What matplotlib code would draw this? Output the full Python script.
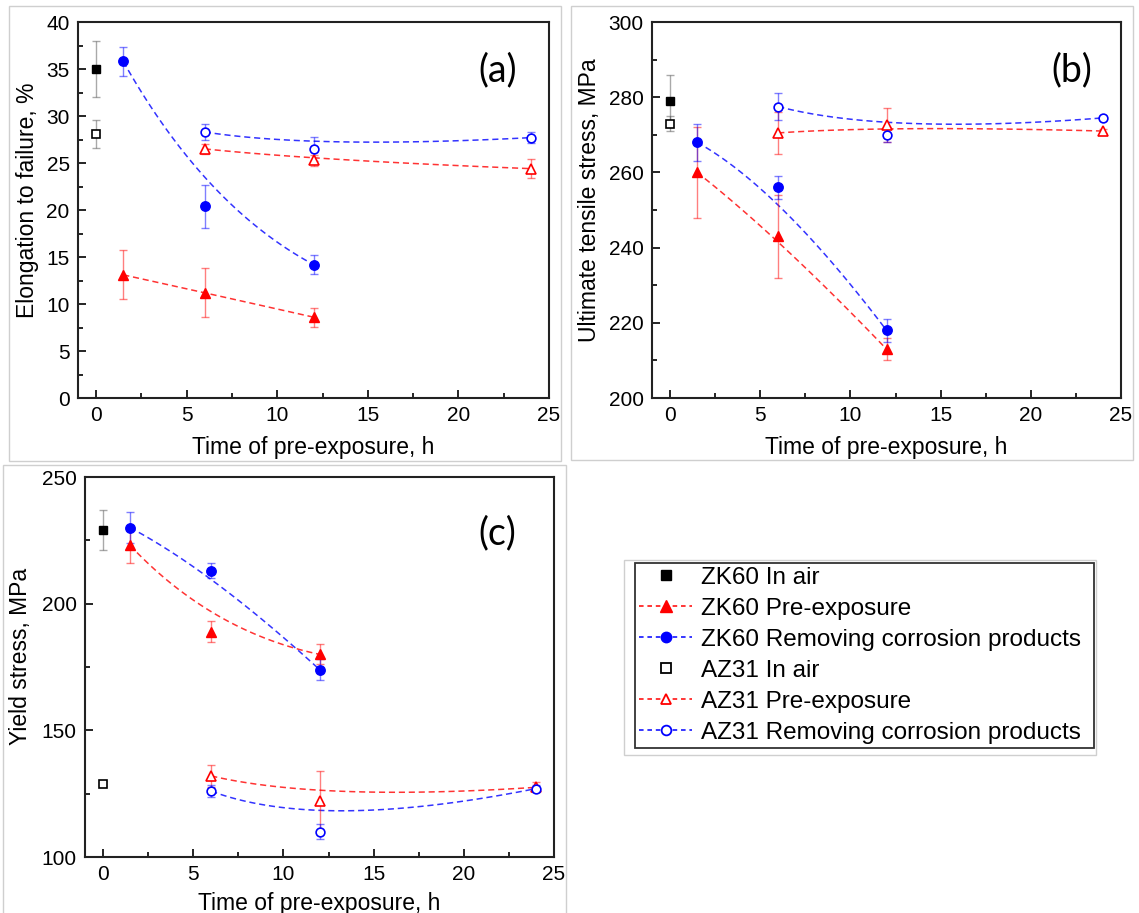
import numpy as np
import matplotlib
matplotlib.use("Agg")
import matplotlib.pyplot as plt
from matplotlib.lines import Line2D
from matplotlib.patches import Rectangle
from math import comb

plt.rcParams['font.family'] = ['Liberation Sans', 'DejaVu Sans']

# ================= data =================
t_air = [0]
t_zk = [1.5, 6, 12]
t_az = [6, 12, 24]

# (a) elongation to failure, %
a_zk_air, a_zk_air_err = [35.0], [3.0]
a_az_air, a_az_air_err = [28.1], [1.5]
a_zk_pre, a_zk_pre_err = [13.1, 11.2, 8.6], [2.6, 2.6, 1.0]
a_zk_rem, a_zk_rem_err = [35.8, 20.4, 14.2], [1.5, 2.3, 1.0]
a_az_pre, a_az_pre_err = [26.5, 25.3, 24.4], [0.5, 0.6, 1.0]
a_az_rem, a_az_rem_err = [28.3, 26.5, 27.7], [0.9, 1.3, 0.6]

# (b) ultimate tensile stress, MPa
b_zk_air, b_zk_air_err = [279], [7]
b_az_air, b_az_air_err = [273], [2]
b_zk_pre, b_zk_pre_err = [260, 243, 213], [12, 11, 3]
b_zk_rem, b_zk_rem_err = [268, 256, 218], [5, 3, 3]
b_az_pre, b_az_pre_err = [270.5, 272.5, 271], [5.5, 4.5, 0.5]
b_az_rem, b_az_rem_err = [277.5, 270, 274.5], [3.5, 2, 0.5]

# (c) yield stress, MPa
c_zk_air, c_zk_air_err = [229], [8]
c_az_air, c_az_air_err = [129], [1]
c_zk_pre, c_zk_pre_err = [223, 189, 180], [7, 4, 4]
c_zk_rem, c_zk_rem_err = [230, 213, 174], [6, 3, 4]
c_az_pre, c_az_pre_err = [132, 122, 127.5], [4.5, 12, 2]
c_az_rem, c_az_rem_err = [126, 110, 127], [2.5, 3, 1.5]

labels = ['ZK60 In air', 'ZK60 Pre-exposure', 'ZK60 Removing corrosion products',
          'AZ31 In air', 'AZ31 Pre-exposure', 'AZ31 Removing corrosion products']

RED = '#ff0000'
BLUE = '#0000ff'
W, H = 1139, 913


def bezier(xs, ys, n=100):
    # B-spline (Bezier) curve using the data points as control points
    xs = np.asarray(xs, float)
    ys = np.asarray(ys, float)
    k = len(xs) - 1
    t = np.linspace(0, 1, n)
    bx = np.zeros(n)
    by = np.zeros(n)
    for i in range(k + 1):
        b = comb(k, i) * t**i * (1 - t)**(k - i)
        bx += b * xs[i]
        by += b * ys[i]
    return bx, by


def series(ax, x, y, err, color, marker, filled, line=True):
    if line:
        cx, cy = bezier(x, y)
        ax.plot(cx, cy, ls=(0, (4, 2.5)), color=color, lw=1.1, alpha=0.8, zorder=2)
    ecol = color if color != 'black' else '#555555'
    ax.errorbar(x, y, yerr=err, fmt='none', ecolor=ecol, elinewidth=1.0,
                capsize=3, capthick=1.0, alpha=0.5, zorder=3)
    ms = 6.8 if marker == 'o' else (7.5 if marker == '^' else 6)
    if filled:
        ax.plot(x, y, ls='none', marker=marker, ms=ms, color=color, mec=color, zorder=4)
    else:
        ax.plot(x, y, ls='none', marker=marker, ms=ms - 0.5, mfc='white', mec=color,
                mew=1.2, zorder=4)


def px_axes(fig, left, top, right, bottom):
    return fig.add_axes([left / W, 1 - bottom / H, (right - left) / W, (bottom - top) / H])


def style(ax, ylim, major, minor, ylabel, tag, lab_xy, tag_xy):
    ax.set_xlim(-1, 25)
    ax.set_ylim(*ylim)
    ax.set_xticks([0, 5, 10, 15, 20, 25])
    ax.set_xticks([2.5, 7.5, 12.5, 17.5, 22.5], minor=True)
    ax.set_yticks(np.arange(ylim[0], ylim[1] + 0.01, major))
    ax.set_yticks(np.arange(ylim[0], ylim[1] + 0.01, minor), minor=True)
    ax.tick_params(which='both', direction='in', top=False, right=False,
                   labelsize=15, width=1.2, pad=6)
    ax.tick_params(which='major', length=6)
    ax.tick_params(which='minor', length=3.5)
    for s in ax.spines.values():
        s.set_linewidth(1.5)
        s.set_color('#222222')
    ax.set_xlabel('Time of pre-exposure, h', fontsize=16.5)
    ax.set_ylabel(ylabel, fontsize=16.5)
    ax.xaxis.set_label_coords(0.5, lab_xy[1])
    ax.yaxis.set_label_coords(lab_xy[0], 0.527)
    ax.text(tag_xy[0], tag_xy[1], tag, transform=ax.transAxes, fontsize=27, family='Lato',
            ha='center', va='center')


fig = plt.figure(figsize=(W / 100, H / 100), dpi=100)

# light grey frames around each panel
for (l, t, r, b) in [(9, 6, 561, 461), (571, 6, 1133, 460), (3, 465, 566, 930), (624, 560, 1096, 755)]:
    fig.patches.append(Rectangle((l / W, 1 - b / H), (r - l) / W, (b - t) / H,
                                 transform=fig.transFigure, fill=False,
                                 edgecolor='#cfcfcf', lw=1.0))

panels = [
    (px_axes(fig, 78, 22, 549, 398), (0, 40), 5, 2.5, 'Elongation to failure, %', '(a)',
     (-0.083, -0.1), (0.892, 0.872),
     [a_zk_air, a_zk_pre, a_zk_rem, a_az_air, a_az_pre, a_az_rem],
     [a_zk_air_err, a_zk_pre_err, a_zk_rem_err, a_az_air_err, a_az_pre_err, a_az_rem_err]),
    (px_axes(fig, 652, 22, 1121, 398), (200, 300), 20, 10, 'Ultimate tensile stress, MPa', '(b)',
     (-0.109, -0.1), (0.896, 0.872),
     [b_zk_air, b_zk_pre, b_zk_rem, b_az_air, b_az_pre, b_az_rem],
     [b_zk_air_err, b_zk_pre_err, b_zk_rem_err, b_az_air_err, b_az_pre_err, b_az_rem_err]),
    (px_axes(fig, 85, 477, 554, 857), (100, 250), 50, 25, 'Yield stress, MPa', '(c)',
     (-0.113, -0.092), (0.88, 0.853),
     [c_zk_air, c_zk_pre, c_zk_rem, c_az_air, c_az_pre, c_az_rem],
     [c_zk_air_err, c_zk_pre_err, c_zk_rem_err, c_az_air_err, c_az_pre_err, c_az_rem_err]),
]

for ax, ylim, major, minor, ylabel, tag, lab_xy, tag_xy, vals, errs in panels:
    series(ax, t_air, vals[0], errs[0], 'black', 's', True, line=False)
    series(ax, t_air, vals[3], errs[3], 'black', 's', False, line=False)
    series(ax, t_zk, vals[1], errs[1], RED, '^', True)
    series(ax, t_zk, vals[2], errs[2], BLUE, 'o', True)
    series(ax, t_az, vals[4], errs[4], RED, '^', False)
    series(ax, t_az, vals[5], errs[5], BLUE, 'o', False)
    style(ax, ylim, major, minor, ylabel, tag, lab_xy, tag_xy)

# legend
dash = (0, (3, 2.5))
handles = [
    Line2D([], [], ls='none', marker='s', ms=6.5, color='black'),
    Line2D([], [], ls=dash, lw=1.1, color=RED, marker='^', ms=8),
    Line2D([], [], ls=dash, lw=1.1, color=BLUE, marker='o', ms=7.5),
    Line2D([], [], ls='none', marker='s', ms=6.5, mfc='white', mec='black', mew=1.3),
    Line2D([], [], ls=dash, lw=1.1, color=RED, marker='^', ms=7.5, mfc='white', mew=1.3),
    Line2D([], [], ls=dash, lw=1.1, color=BLUE, marker='o', ms=7, mfc='white', mew=1.3),
]
leg = fig.legend(handles, labels, loc='upper left',
                 bbox_to_anchor=(635 / W, 1 - 749 / H, (1094 - 635) / W, (749 - 563) / H),
                 mode='expand', borderaxespad=0, fontsize=17.5, frameon=True, fancybox=False,
                 edgecolor='#333333', framealpha=1, labelspacing=0.37,
                 handlelength=2.2, handletextpad=0.37, borderpad=0.16)
leg.get_frame().set_linewidth(1.3)

fig.savefig('out.png', dpi=100)
